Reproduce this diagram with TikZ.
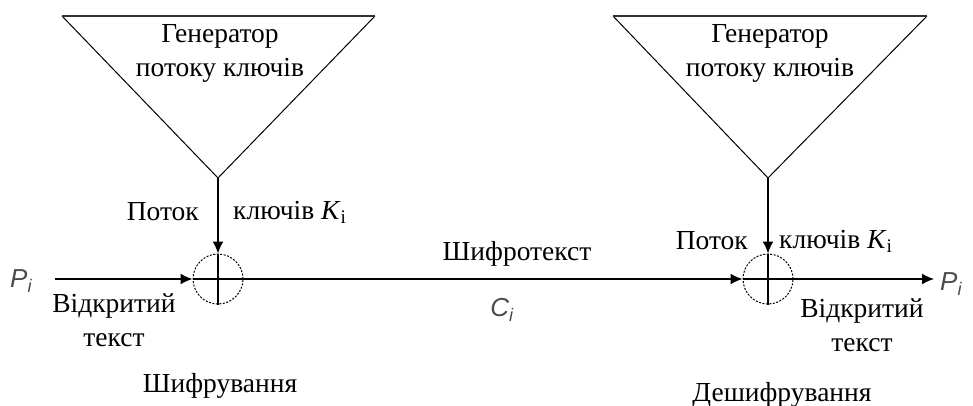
\documentclass[tikz,border=0pt]{standalone}
\usepackage{fontspec}
\setmainfont{Liberation Serif}
\newfontfamily\labfont{Liberation Sans}
\usetikzlibrary{arrows.meta}
\begin{document}
\begin{tikzpicture}[x=1pt,y=-1pt,
  txt/.style={font=\fontsize{27.5}{34}\selectfont, inner sep=0pt, align=center},
  sym/.style={font=\labfont\itshape\fontsize{26}{28}\selectfont, text=black!70, inner sep=0pt},
  xorbox/.style={circle, draw, dash pattern=on 2pt off 1.5pt, line width=1pt, minimum size=50pt, inner sep=0pt},
  tri/.style={line width=1pt},
  topedge/.style={line width=2pt, draw=black!80},
  flow/.style={line width=1.5pt, -{Latex[length=12pt,width=11pt]}},
  plain/.style={line width=1.5pt}
]
\useasboundingbox (0,0) rectangle (973,406);
% generators
\coordinate (tlA) at (62,16);
\coordinate (trA) at (375,16);
\coordinate (apA) at (218,178);
\coordinate (tlB) at (613,16);
\coordinate (trB) at (927,16);
\coordinate (apB) at (768,178);
\draw[tri] (tlA) -- (apA) -- (trA);
\draw[topedge] (tlA) -- (trA);
\draw[tri] (tlB) -- (apB) -- (trB);
\draw[topedge] (tlB) -- (trB);
\node[txt] (genA) at (220,53) {Генератор\\потоку ключів};
\node[txt] (genB) at (770,53) {Генератор\\потоку ключів};
% xor nodes
\node[xorbox] (xA) at (218,279) {};
\node[xorbox] (xB) at (768,279) {};
\draw[plain] (xA.north) -- (xA.south);
\draw[plain] (xA.west) -- (xA.east);
\draw[plain] (xB.north) -- (xB.south);
\draw[plain] (xB.west) -- (xB.east);
% ends
\coordinate (inA) at (55,279);
\coordinate (outB) at (934,279);
\draw[flow] (apA) -- (xA.north);
\draw[flow] (apB) -- (xB.north);
\draw[flow] (inA) -- (xA.west);
\draw[flow] (xA.east) -- (xB.west);
\draw[flow] (xB.east) -- (outB);
% labels
\node[txt, anchor=east] (pkA) at (199,212) {Поток};
\node[txt, anchor=west] (kkA) at (233,212) {ключів \textit{K}\textsubscript{i}};
\node[txt, anchor=east] (pkB) at (748,241) {Поток};
\node[txt, anchor=west] (kkB) at (779,241) {ключів \textit{K}\textsubscript{i}};
\node[sym, anchor=west] (pA) at (10,281) {P\textsubscript{i}};
\node[sym, anchor=west] (pB) at (940,284) {P\textsubscript{i}};
\node[txt] (otA) at (114,320) {Відкритий\\текст};
\node[txt] (otB) at (862,325) {Відкритий\\текст};
\node[txt] (ct) at (517,254) {Шифротекст};
\node[sym] (ci) at (502,310) {C\textsubscript{i}};
\node[txt] (encr) at (220,386) {Шифрування};
\node[txt] (decr) at (782,395) {Дешифрування};
\end{tikzpicture}
\end{document}
